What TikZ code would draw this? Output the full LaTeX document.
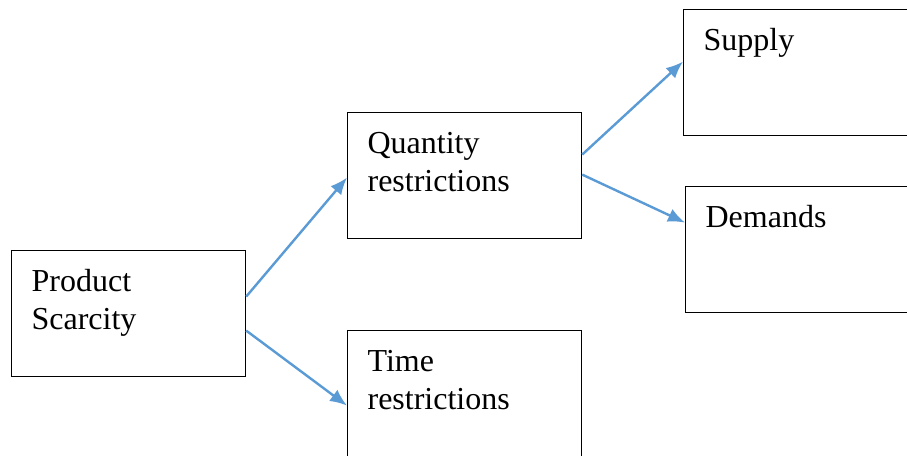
\documentclass[tikz,border=0pt]{standalone}
\usepackage{fontspec}
\setmainfont{Liberation Serif}
\usetikzlibrary{arrows.meta}
\usetikzlibrary{positioning}
\definecolor{mblue}{HTML}{5B9BD5}
\tikzset{box/.style = {draw, line width=1.2pt, anchor=north west,
                       text width=194pt, align=left,
                       inner xsep=20pt, inner ysep=0pt,
                       text height=41pt, text depth=85pt,
                       font=\fontsize{32}{38}\selectfont},
         link/.style = {mblue, line width=2.4pt,
                        -{Latex[length=17pt,width=14pt]}}}

\begin{document}
\begin{tikzpicture}[x=1pt, y=-1pt]
    \useasboundingbox (0, 0) rectangle (907, 455);
    \node [box] (scarcity) at (11, 250) {Product\\Scarcity};
    \node [box] (quantity) at (347, 112) {Quantity\\restrictions};
    \node [box] (time) at (347, 330) {Time\\restrictions};
    \node [box] (supply) at (683, 9) {Supply};
    \node [box] (demands) at (685, 186) {Demands};
    \draw [link] ([yshift=17pt]scarcity.east) -- ([yshift=-2pt]quantity.west);
    \draw [link] ([yshift=-17pt]scarcity.east) -- ([yshift=-12pt]time.west);
    \draw [link] ([yshift=21pt]quantity.east) -- ([yshift=11pt]supply.west);
    \draw [link] ([yshift=1pt]quantity.east) -- ([yshift=27pt]demands.west);
  \end{tikzpicture}
\end{document}
